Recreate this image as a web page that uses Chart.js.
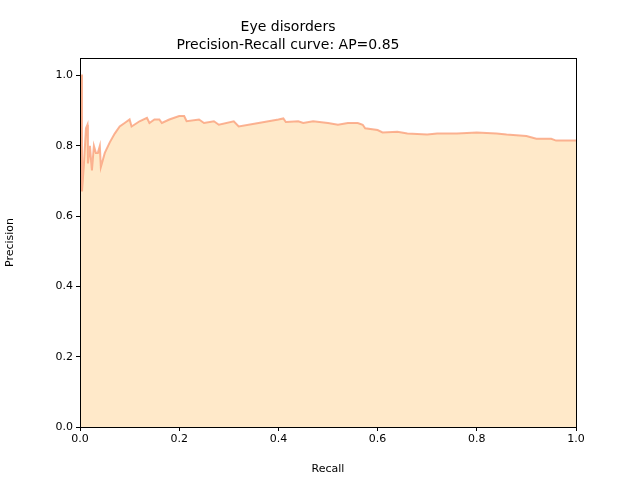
<!DOCTYPE html>
<html>
<head>
<meta charset="utf-8">
<script src="https://cdn.jsdelivr.net/npm/chart.js@4"></script>
<style>body{margin:0;background:#fff}#wrap{width:640px;height:480px}</style>
</head>
<body>
<div id="wrap"><canvas id="myChart"></canvas></div>
<script>
// recall / precision
const recall = [0,0.004,0.004,0.008,0.012,0.015,0.016,0.02,0.024,0.028,0.032,0.036,0.04,0.042,0.05,0.06,0.07,0.08,0.09,0.1,0.104,0.12,0.135,0.14,0.15,0.16,0.165,0.18,0.2,0.21,0.215,0.24,0.25,0.27,0.28,0.31,0.32,0.36,0.4,0.41,0.415,0.44,0.45,0.47,0.5,0.52,0.54,0.56,0.57,0.575,0.6,0.61,0.64,0.66,0.7,0.72,0.76,0.8,0.84,0.86,0.88,0.9,0.92,0.95,0.96,1.0]
const precision = [1.0,1.0,0.67,0.75,0.85,0.86,0.75,0.80,0.73,0.80,0.78,0.78,0.80,0.74,0.78,0.81,0.835,0.855,0.865,0.875,0.855,0.87,0.88,0.865,0.875,0.875,0.865,0.875,0.885,0.885,0.87,0.875,0.865,0.87,0.86,0.87,0.855,0.865,0.875,0.878,0.868,0.87,0.865,0.87,0.865,0.86,0.865,0.865,0.86,0.85,0.845,0.838,0.84,0.835,0.832,0.835,0.835,0.838,0.835,0.832,0.83,0.828,0.82,0.82,0.815,0.815]
const xTicks = [0, 0.2, 0.4, 0.6, 0.8, 1.0]
const yTicks = [0, 0.2, 0.4, 0.6, 0.8, 1.0]

const points = recall.map((r, i) => ({x: r, y: precision[i]}))
const font = {family: 'DejaVu Sans', size: 11}
const grid = {drawOnChartArea: false, drawTicks: true, tickLength: 4, color: '#000'}

new Chart(document.getElementById('myChart'), {
    type: 'line',
    data: {
        datasets: [{
            data: points,
            borderColor: 'rgba(250,160,122,0.8)',
            backgroundColor: 'rgba(255,228,188,0.8)',
            borderWidth: 2,
            pointRadius: 0,
            tension: 0,
            fill: 'origin'
        }]
    },
    options: {
        responsive: true,
        maintainAspectRatio: false,
        animation: false,
        layout: {padding: {left: 0, right: 64, top: 0, bottom: 0}},
        plugins: {
            legend: {display: false},
            tooltip: {enabled: false},
            title: {
                display: true,
                text: ['Eye disorders', 'Precision-Recall curve: AP=0.85'],
                color: '#000',
                font: {family: 'DejaVu Sans', size: 14, weight: 'normal', lineHeight: 1.25},
                padding: {top: 19, bottom: 4}
            }
        },
        scales: {
            x: {
                type: 'linear', min: 0, max: 1,
                grid: grid,
                border: {color: '#000'},
                ticks: {color: '#000', font: font, autoSkip: false, padding: 2,
                        callback: v => v.toFixed(1)},
                afterBuildTicks: s => { s.ticks = xTicks.map(v => ({value: v})) },
                afterFit: s => { s.height = 53 },
                title: {display: true, text: 'Recall', color: '#000', padding: {top: 2},
                        font: {family: 'DejaVu Sans', size: 11}}
            },
            y: {
                type: 'linear', min: 0, max: 1.05,
                grid: grid,
                border: {color: '#000'},
                ticks: {color: '#000', font: font, autoSkip: false, padding: 3,
                        callback: v => v.toFixed(1)},
                afterBuildTicks: s => { s.ticks = yTicks.map(v => ({value: v})) },
                afterFit: s => { s.width = 80 },
                title: {display: true, text: 'Precision', color: '#000', padding: {bottom: 0},
                        font: {family: 'DejaVu Sans', size: 11}}
            }
        }
    },
    plugins: [{
        id: 'frame',
        afterDraw(chart) {
            const a = chart.chartArea, c = chart.ctx
            c.save(); c.strokeStyle = '#000'; c.lineWidth = 1
            c.strokeRect(a.left + 0.5, a.top + 0.5, a.right - a.left, a.bottom - a.top)
            c.restore()
        }
    }]
})
</script>
</body>
</html>
